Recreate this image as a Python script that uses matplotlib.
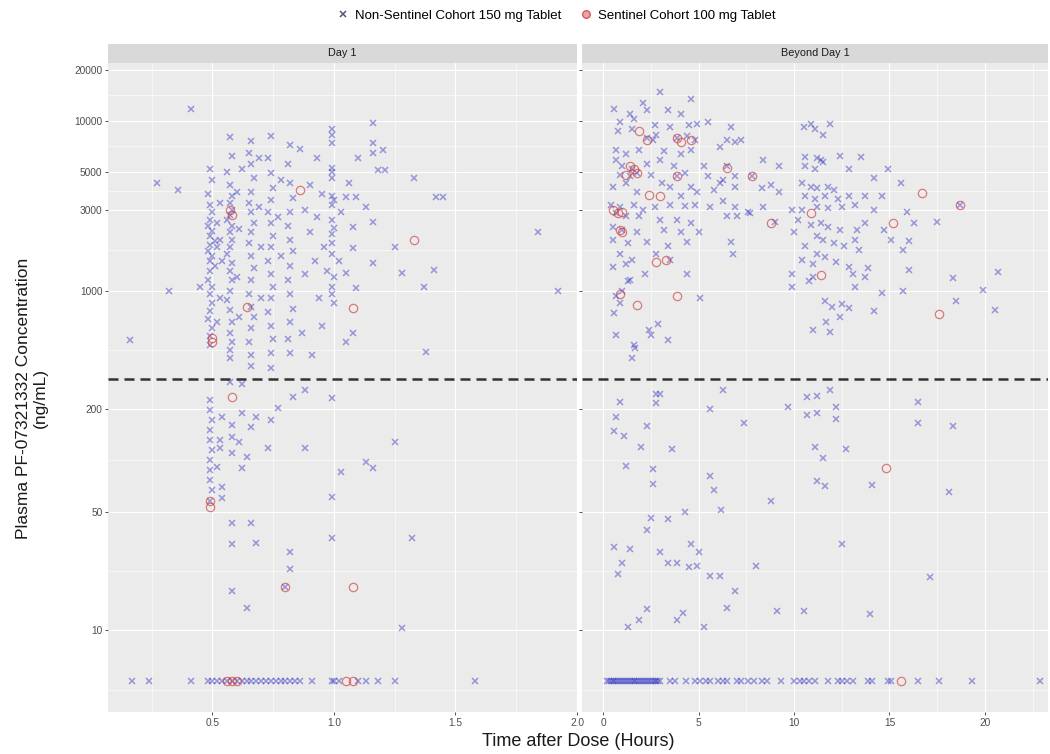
import matplotlib.pyplot as plt
from matplotlib.lines import Line2D

plt.rcParams['font.family'] = ['Liberation Sans', 'DejaVu Sans']

# --- data (time in hours, concentration in ng/mL) ---
THRESHOLD = 300        # dashed reference line
BLQ_VALUE = 5          # where below-limit samples are drawn

day1_ns = [
    # early outliers
    (0.16, 510), (0.27, 4300), (0.36, 3900), (0.32, 1000), (0.41, 11800), (0.45, 1050),
    # ~0.5 h column
    (0.49, 5200), (0.50, 4500), (0.48, 3700), (0.49, 3200), (0.50, 2900), (0.49, 2600),
    (0.48, 2400), (0.50, 2250), (0.49, 2100), (0.51, 1950), (0.49, 1850), (0.48, 1700),
    (0.50, 1600), (0.49, 1500), (0.51, 1400), (0.49, 1300), (0.48, 1150), (0.50, 1050),
    (0.49, 950), (0.50, 850), (0.49, 760), (0.48, 680), (0.50, 600), (0.49, 540), (0.49, 480),
    (0.52, 2500), (0.53, 2000), (0.52, 1800), (0.53, 3300), (0.54, 1500), (0.53, 900), (0.52, 650),
    # ~0.57 h column
    (0.57, 8000), (0.58, 6200), (0.56, 5000), (0.57, 4200), (0.58, 3600), (0.57, 3300),
    (0.58, 3000), (0.57, 2800), (0.56, 2600), (0.58, 2400), (0.57, 2200), (0.58, 2000),
    (0.57, 1800), (0.56, 1650), (0.58, 1450), (0.57, 1300), (0.58, 1150), (0.57, 1000),
    (0.56, 880), (0.57, 770), (0.58, 650), (0.57, 560), (0.58, 500), (0.57, 450), (0.57, 400),
    (0.60, 3800), (0.61, 2300), (0.60, 1200), (0.61, 700), (0.62, 5200),
    # ~0.66 h column
    (0.66, 7600), (0.65, 6500), (0.66, 5600), (0.67, 4600), (0.66, 3800), (0.65, 3300),
    (0.66, 2900), (0.67, 2500), (0.66, 2200), (0.65, 1900), (0.66, 1600), (0.67, 1350),
    (0.66, 1150), (0.65, 950), (0.66, 800), (0.67, 700), (0.66, 600), (0.65, 500),
    (0.66, 420), (0.66, 360), (0.69, 3100), (0.70, 1800), (0.70, 900), (0.69, 6000),
    # ~0.74 h column
    (0.74, 8100), (0.73, 6000), (0.74, 4900), (0.75, 4000), (0.74, 3400), (0.73, 2900),
    (0.74, 2500), (0.75, 2100), (0.74, 1800), (0.73, 1500), (0.74, 1250), (0.75, 1050),
    (0.74, 900), (0.73, 750), (0.74, 620), (0.75, 520), (0.74, 430), (0.74, 350),
    (0.77, 2700), (0.78, 1600), (0.78, 4500),
    # ~0.82 h column
    (0.82, 7200), (0.81, 5600), (0.82, 4300), (0.83, 3500), (0.82, 2900), (0.81, 2400),
    (0.82, 2000), (0.83, 1700), (0.82, 1400), (0.81, 1150), (0.82, 950), (0.83, 780),
    (0.82, 650), (0.81, 520), (0.82, 430),
    # between columns
    (0.86, 6800), (0.88, 3000), (0.90, 2200), (0.92, 1500), (0.88, 1250), (0.94, 900),
    (0.95, 620), (0.87, 560), (0.90, 4200), (0.93, 2700), (0.96, 1800), (0.91, 420),
    (0.97, 1300), (0.93, 6000), (0.95, 3700),
    # ~1.0 h column
    (0.99, 9000), (0.99, 8200), (0.99, 7400), (0.99, 5300), (0.99, 5000), (0.99, 4600),
    (0.99, 3600), (1.00, 3400), (0.99, 3200), (0.99, 2600), (1.00, 2350), (0.99, 2150),
    (0.99, 1900), (0.99, 1650), (1.00, 1200), (0.99, 1050), (0.99, 950), (1.00, 850),
    # after 1 h
    (1.16, 9700), (1.16, 7400), (1.20, 6760), (1.16, 6500), (1.18, 5130), (1.21, 5100),
    (1.33, 4600), (1.42, 3550), (1.45, 3550), (1.25, 1810), (1.28, 1270), (1.41, 1330),
    (1.37, 1050), (1.38, 435), (1.84, 2200), (1.92, 1000), (1.16, 1460), (1.16, 2520),
    (1.08, 2370), (1.09, 3550), (1.05, 3550), (1.13, 3100), (1.09, 1030), (1.08, 560),
    (1.05, 500), (1.05, 1270), (1.08, 1790), (1.03, 2900), (1.06, 4300), (1.10, 6000), (1.02, 1500),
    # below the dashed line
    (0.49, 226), (0.49, 198), (0.50, 173), (0.49, 151), (0.49, 132), (0.50, 115),
    (0.49, 100), (0.49, 88), (0.49, 77), (0.50, 67), (0.49, 58), (0.54, 180), (0.62, 190),
    (0.68, 180), (0.66, 157), (0.58, 162), (0.58, 137), (0.53, 132), (0.61, 128),
    (0.53, 118), (0.58, 110), (0.64, 105), (0.52, 91), (0.62, 90), (0.54, 70), (0.54, 60),
    (0.73, 118), (0.88, 118), (0.77, 204), (0.74, 173), (0.83, 236), (0.88, 260),
    (0.99, 233), (1.25, 128), (1.13, 98), (1.16, 90), (1.03, 85), (0.99, 61), (0.58, 43),
    (0.66, 43), (0.58, 32), (0.68, 32.5), (0.82, 29), (0.82, 23), (0.99, 35), (1.32, 35),
    (0.80, 18), (0.58, 17), (0.64, 13.5), (1.28, 10.3), (0.57, 290), (0.62, 280),
]
day1_s = [
    (0.57, 2990), (0.58, 2800), (0.86, 3900), (1.33, 2000), (0.64, 800), (0.50, 525),
    (0.50, 500), (0.58, 236), (0.49, 58), (0.49, 53), (0.80, 18), (1.08, 18), (1.08, 790),
]
day1_ns_blq = [0.17, 0.24, 0.41, 0.48, 0.50, 0.52, 0.54, 0.56, 0.58, 0.60, 0.62, 0.64,
               0.66, 0.68, 0.70, 0.72, 0.74, 0.76, 0.78, 0.80, 0.82, 0.84, 0.86, 0.91,
               0.99, 1.00, 1.02, 1.10, 1.13, 1.18, 1.25, 1.58]
day1_s_blq = [0.56, 0.58, 0.60, 1.05, 1.08]

beyond_ns = [
    # first cluster, high
    (3.0, 14800), (4.6, 13500), (2.1, 12800), (0.6, 11800), (1.4, 11000), (2.3, 11600),
    (3.4, 11600), (4.1, 11000), (5.5, 9800), (0.9, 9800), (1.6, 10300), (2.7, 9400),
    (4.5, 9400), (4.9, 9600), (6.7, 9250), (3.5, 9250),
    (0.8, 8700), (1.5, 8900), (2.3, 7900), (2.6, 7700), (2.8, 8200), (3.9, 7900),
    (4.4, 8100), (4.8, 7700), (6.1, 7000), (6.5, 7700), (6.9, 7500), (7.2, 7700),
    (0.7, 6700), (1.2, 6400), (1.9, 6700), (3.2, 6600), (4.1, 6400), (4.6, 6700),
    (0.7, 5900), (1.0, 5400), (1.5, 5200), (2.3, 5600), (3.0, 5900), (3.7, 5400),
    (5.3, 5400), (6.5, 5400), (0.9, 4800), (1.4, 4700), (1.8, 4900), (2.5, 4800),
    (3.9, 4700), (4.3, 4900), (5.5, 4700), (6.3, 4500), (6.9, 4700), (7.8, 4700),
    # first cluster, middle
    (0.5, 4100), (1.2, 4300), (1.8, 3800), (3.1, 4300), (3.5, 4100), (4.1, 3600),
    (4.6, 4100), (4.9, 3800), (5.8, 3900), (6.1, 4300), (6.9, 4100), (0.4, 3200),
    (0.9, 3100), (1.6, 3200), (2.1, 3000), (2.7, 3100), (3.5, 3200), (4.3, 3150),
    (4.8, 3200), (5.6, 3100), (6.3, 3350), (6.9, 3100), (7.6, 2900), (0.7, 2850),
    (1.2, 2750), (1.9, 2750), (3.0, 2600), (3.9, 2600), (4.6, 2500), (6.5, 2750),
    (7.0, 2750), (7.7, 2850),
    (0.5, 2380), (1.0, 2280), (1.8, 2200), (3.2, 2280), (4.1, 2200), (5.0, 2200),
    (0.5, 1980), (1.3, 1900), (2.3, 1940), (3.4, 1820), (4.4, 1940), (6.7, 1940),
    (0.9, 1650), (1.5, 1510), (2.8, 1650), (3.5, 1510), (6.8, 1650), (0.5, 1380),
    (1.2, 1440), (2.2, 1260), (4.4, 1260), (1.4, 1160),
    # first cluster, low tail
    (1.3, 1140), (1.0, 1000), (0.7, 930), (0.9, 840), (0.6, 740), (2.9, 640), (0.7, 550),
    (3.4, 510), (1.6, 480), (1.7, 460), (1.5, 400), (2.4, 590), (2.5, 550), (5.1, 900),
    # second cluster
    (10.9, 9600), (11.9, 9600), (11.1, 8900), (11.5, 8200), (10.5, 9250), (10.6, 6100),
    (11.2, 6000), (11.4, 5900), (11.5, 5700), (12.4, 6200), (13.5, 6100), (8.4, 5900),
    (9.2, 5400), (10.6, 5400), (11.1, 5200), (12.9, 5200), (14.9, 5200), (14.2, 4600),
    (15.6, 4300), (10.4, 4300), (10.9, 4100), (11.2, 4000), (11.8, 4100), (12.1, 3900),
    (8.3, 4000), (8.8, 4200), (9.2, 3800), (10.6, 3600), (11.1, 3450), (11.6, 3600),
    (12.3, 3450), (12.9, 3600), (13.7, 3600), (14.6, 3600), (8.4, 3100), (9.9, 2980),
    (10.4, 2980), (11.2, 3100), (11.8, 3050), (12.5, 3100), (13.2, 3200), (14.2, 2980),
    (15.9, 2900), (16.3, 2500), (17.5, 2550), (9.0, 2550), (10.2, 2600), (10.9, 2450),
    (11.4, 2500), (11.8, 2380), (12.4, 2280), (13.3, 2280), (13.7, 2500), (10.0, 2200),
    (11.2, 2100), (11.5, 2000), (12.1, 1900), (13.2, 2000), (14.7, 2280), (15.1, 2000),
    (16.0, 1950), (10.6, 1820), (11.2, 1650), (11.6, 1580), (12.6, 1820), (13.4, 1740),
    (15.7, 1740), (10.4, 1510), (11.0, 1440), (12.2, 1480), (12.9, 1380), (13.9, 1350),
    (16.0, 1320), (9.9, 1260), (11.0, 1210), (13.1, 1260), (13.7, 1210), (18.3, 1190),
    (20.7, 1290), (9.9, 1050), (10.8, 1140), (13.2, 1050), (14.6, 964), (15.7, 990),
    (19.9, 1010), (11.6, 870), (12.0, 800), (12.5, 830), (12.9, 790), (12.4, 700),
    (11.7, 650), (14.2, 755), (18.5, 870), (20.5, 770), (11.0, 590), (11.9, 570), (18.7, 3190),
    # below the dashed line
    (0.9, 220), (2.8, 245), (3.0, 245), (2.8, 217), (0.7, 180), (0.6, 150), (1.1, 140),
    (2.3, 160), (2.0, 120), (3.6, 117), (1.2, 93), (2.6, 89), (2.6, 73), (5.6, 200),
    (6.3, 260), (7.4, 165), (9.7, 205), (10.7, 235), (11.2, 240), (11.9, 260), (12.2, 205),
    (12.2, 175), (10.7, 185), (11.2, 190), (11.1, 120), (12.7, 117), (11.5, 103),
    (16.5, 220), (16.5, 165), (18.3, 160), (5.6, 81), (5.8, 67), (11.2, 76), (11.6, 71),
    (14.1, 72), (18.1, 65), (8.8, 58), (2.5, 46), (2.3, 39), (3.4, 45), (4.3, 50),
    (6.2, 51), (0.6, 31), (1.4, 30), (3.0, 29), (4.6, 32), (5.0, 29), (1.0, 25), (3.4, 25),
    (3.9, 25), (4.5, 23.5), (4.9, 24), (0.8, 21.5), (5.6, 21), (6.1, 21), (8.0, 24),
    (12.5, 32), (17.1, 20.5), (6.9, 17), (2.3, 13.4), (4.2, 12.6), (3.9, 11.5), (1.9, 11.5),
    (1.3, 10.5), (5.3, 10.5), (6.5, 13.5), (9.1, 13), (10.5, 13), (14.0, 12.4),
]
beyond_s = [
    (1.9, 8700), (2.3, 7700), (3.9, 7900), (4.1, 7500), (4.6, 7700), (1.4, 5400),
    (1.6, 5200), (1.2, 4800), (1.8, 4900), (3.9, 4700), (6.5, 5300), (7.8, 4700),
    (2.4, 3650), (3.0, 3600), (0.5, 3000), (0.8, 2850), (1.0, 2900), (0.9, 2280),
    (1.0, 2200), (8.8, 2500), (2.8, 1480), (3.3, 1510), (3.9, 930), (1.8, 820),
    (0.9, 960), (16.7, 3750), (17.6, 730), (15.2, 2500), (11.4, 1230), (10.9, 2850),
    (18.7, 3190), (14.8, 90),
]
beyond_ns_blq = [0.2, 0.3, 0.4, 0.5, 0.6, 0.7, 0.8, 0.9, 1.0, 1.1, 1.2, 1.3, 1.4, 1.5,
                 1.6, 1.7, 1.8, 1.9, 2.0, 2.1, 2.2, 2.3, 2.4, 2.5, 2.6, 2.7, 2.8, 2.9, 3.0,
                 3.5, 3.75, 4.35, 4.8, 5.1, 5.4, 5.6, 6.0, 6.3, 6.5, 7.0, 7.2, 7.6, 7.9,
                 8.35, 8.6, 9.3, 10.0, 10.3, 10.5, 10.8, 11.1, 11.8, 12.3, 12.5, 12.8,
                 13.1, 13.9, 14.1, 14.9, 15.1, 16.5, 17.6, 19.3, 22.9]
beyond_s_blq = [15.6]

y_breaks = [10, 50, 200, 1000, 3000, 5000, 10000, 20000]
y_minor = [4.47, 22.4, 100, 447, 1732, 3873, 7071, 14142]
panels = [
    ("Day 1", day1_ns, day1_s, day1_ns_blq, day1_s_blq, (0.07, 1.99),
     [0.5, 1.0, 1.5, 2.0], ["0.5", "1.0", "1.5", "2.0"], [0.25, 0.75, 1.25, 1.75]),
    ("Beyond Day 1", beyond_ns, beyond_s, beyond_ns_blq, beyond_s_blq, (-1.1, 23.3),
     [0, 5, 10, 15, 20], ["0", "5", "10", "15", "20"], [2.5, 7.5, 12.5, 17.5, 22.5]),
]

NS_COLOR = '#2a2ac0'
S_COLOR = '#d03c3c'

W, H = 1050, 754
fig = plt.figure(figsize=(W / 100, H / 100), dpi=100)


def px_box(x0, y0, x1, y1):
    return [x0 / W, 1 - y1 / H, (x1 - x0) / W, (y1 - y0) / H]


boxes = [(108, 577), (582, 1048)]
panel_top, panel_bot, strip_h = 63, 712, 19

for (title, ns, s, ns_blq, s_blq, xlim, xt, xtl, xminor), (x0, x1) in zip(panels, boxes):
    ax = fig.add_axes(px_box(x0, panel_top, x1, panel_bot))
    ax.set_facecolor('#EBEBEB')
    for sp in ax.spines.values():
        sp.set_visible(False)
    ax.set_yscale('log')
    ax.set_xlim(*xlim)
    ax.set_ylim(3.3, 21900)

    ax.set_yticks(y_breaks)
    ax.set_yticks(y_minor, minor=True)
    ax.set_xticks(xt)
    ax.set_xticks(xminor, minor=True)
    ax.set_xticklabels(xtl)
    if x0 == boxes[0][0]:
        ax.set_yticklabels([str(v) for v in y_breaks])
    else:
        ax.set_yticklabels([])
        ax.tick_params(axis='y', which='major', length=0)
    ax.yaxis.set_minor_formatter(plt.NullFormatter())
    ax.tick_params(which='major', length=2.5, width=0.6, color='#333333',
                   labelsize=7.3, labelcolor='#4D4D4D', pad=1.5)
    ax.tick_params(which='minor', length=0)
    ax.grid(True, which='major', color='white', lw=0.8)
    ax.grid(True, which='minor', color='white', lw=0.4)
    ax.set_axisbelow(True)

    ns_t, ns_c = zip(*ns)
    ax.plot(ns_t, ns_c, ls='none', marker='x', ms=3.8, mew=1.1, color=NS_COLOR, alpha=0.45)
    ax.plot(ns_blq, [BLQ_VALUE] * len(ns_blq), ls='none', marker='x', ms=3.8, mew=1.1,
            color=NS_COLOR, alpha=0.45)
    s_t, s_c = zip(*s)
    ax.plot(s_t, s_c, ls='none', marker='o', ms=6, mew=0.9, mfc='none', mec=S_COLOR, alpha=0.65)
    ax.plot(s_blq, [BLQ_VALUE] * len(s_blq), ls='none', marker='o', ms=6, mew=0.9,
            mfc='none', mec=S_COLOR, alpha=0.65)

    ax.axhline(THRESHOLD, color='#333333', lw=1.8, ls=(0, (4, 2.4)))

    strip = fig.add_axes(px_box(x0, panel_top - strip_h, x1, panel_top))
    strip.set_facecolor('#D9D9D9')
    strip.set_xticks([])
    strip.set_yticks([])
    for sp in strip.spines.values():
        sp.set_visible(False)
    strip.text(0.5, 0.5, title, ha='center', va='center', fontsize=7.8, color='#1A1A1A',
               transform=strip.transAxes)

fig.text(578 / W, 1 - 742 / H, 'Time after Dose (Hours)', ha='center', va='center',
         fontsize=13, color='#1A1A1A')
fig.text(32 / W, 1 - 398 / H, 'Plasma PF-07321332 Concentration\n(ng/mL)', ha='center',
         va='center', rotation=90, fontsize=12.5, color='#1A1A1A', linespacing=1.15)

handles = [
    Line2D([], [], ls='none', marker='x', ms=4.5, mew=1.1, color='#555577'),
    Line2D([], [], ls='none', marker='o', ms=5.5, mfc='#e89a9a', mec='#d05050', alpha=0.9),
]
fig.legend(handles, ['Non-Sentinel Cohort 150 mg Tablet', 'Sentinel Cohort 100 mg Tablet'],
           loc='center', bbox_to_anchor=(556 / W, 1 - 16 / H), ncol=2, frameon=False,
           fontsize=9.5, handletextpad=0.4, columnspacing=1.4, handlelength=1)

fig.savefig('out.png', dpi=100)
